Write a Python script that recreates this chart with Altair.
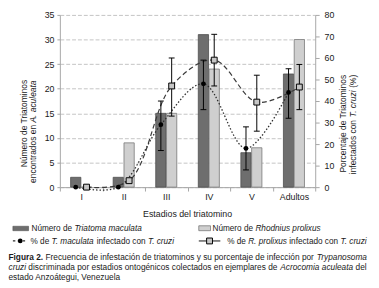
import altair as alt
import pandas as pd

FONT = "Liberation Sans"
INK = "#1a1a1a"

# ---------------- data ----------------
cats = ["I", "II", "III", "IV", "V", "Adultos"]
series = ["T. maculata", "R. prolixus"]
maculata_n = [2, 2, 15, 31, 7, 23]
rhodnius_n = [0, 9, 15, 24, 8, 30]
maculata_pct = [0, 0, 29, 48, 18, 44]
maculata_lo = [None, None, 17, 36, 8, 32]
maculata_hi = [None, None, 40, 59, 28, 55]
rhodnius_pct = [0, 3, 47, 59, 39.5, 46.5]
rhodnius_lo = [None, None, 33, 47, 26, 36]
rhodnius_hi = [None, None, 60, 71, 52, 57]
left_ticks = [0, 5, 10, 15, 20, 25, 30, 35]
right_ticks = [0, 10, 20, 30, 40, 50, 60, 70, 80]

bars_df = pd.DataFrame(
    [dict(cat=c, series=series[0], n=v) for c, v in zip(cats, maculata_n)]
    + [dict(cat=c, series=series[1], n=v) for c, v in zip(cats, rhodnius_n)]
)
m_df = pd.DataFrame(dict(cat=cats, series=series[0], idx=range(len(cats)),
                         pct=maculata_pct, lo=maculata_lo, hi=maculata_hi))
r_df = pd.DataFrame(dict(cat=cats, series=series[1], idx=range(len(cats)),
                         pct=rhodnius_pct, lo=rhodnius_lo, hi=rhodnius_hi))
m_err = m_df.dropna()
r_err = r_df.dropna()

# ---------------- text metrics (Arial / Liberation Sans) ----------------
REG = {' ': 278, '%': 889, '(': 333, ')': 333, ',': 278, '-': 333, '.': 278,
       'A': 667, 'B': 667, 'C': 722, 'D': 722, 'E': 667, 'F': 611, 'G': 778, 'H': 722,
       'I': 278, 'J': 500, 'K': 667, 'L': 556, 'M': 833, 'N': 722, 'O': 778, 'P': 667,
       'Q': 778, 'R': 722, 'S': 667, 'T': 611, 'U': 722, 'V': 667, 'W': 944, 'X': 667,
       'Y': 667, 'Z': 611,
       'a': 556, 'b': 556, 'c': 500, 'd': 556, 'e': 556, 'f': 278, 'g': 556, 'h': 556,
       'i': 222, 'j': 222, 'k': 500, 'l': 222, 'm': 833, 'n': 556, 'o': 556, 'p': 556,
       'q': 556, 'r': 333, 's': 500, 't': 278, 'u': 556, 'v': 500, 'w': 722, 'x': 500,
       'y': 500, 'z': 500, 'á': 556, 'é': 556, 'í': 278, 'ó': 556, 'ú': 556, 'ñ': 556}
BOLD = {'F': 611, 'i': 278, 'g': 611, 'u': 611, 'r': 389, 'a': 556, ' ': 278,
        '2': 556, '.': 278}


def w_em(text, bold=False):
    t = BOLD if bold else REG
    return sum(t.get(ch, 556) for ch in text) / 1000.0


def run(parts, x0, y, fs):
    rows = []
    x = x0
    for text, style in parts:
        b = style == "bold"
        lead = len(text) - len(text.lstrip(" "))
        s = text.strip(" ")
        if s:
            rows.append(dict(x=x + w_em(" " * lead, b) * fs, y=y, text=s, style=style, fs=fs))
        x += w_em(text, b) * fs
    return rows


def run_rot(parts, x, y_top, fs):
    """Text reading bottom-to-top whose end sits at y_top; each segment centred."""
    total = sum(w_em(t) for t, _ in parts) * fs
    bottom = y_top + total
    rows = []
    pos = 0.0
    for text, style in parts:
        lead = w_em(" " * (len(text) - len(text.lstrip(" ")))) * fs
        s = text.strip(" ")
        ws = w_em(s) * fs
        if s:
            c = pos + lead + ws / 2
            rows.append(dict(x=x, y=bottom - c, text=s, style=style, fs=fs))
        pos += w_em(text) * fs
    return rows


LFS = 8.4
CFS = 8.5
TFS = 8.6
SHIFT = 30
hrows = []
hrows += run([("Número de ", "reg"), ("Triatoma maculata", "it")], -29, 218, LFS)
hrows += run([("Número de ", "reg"), ("Rhodnius prolixus", "it")], 156, 218, LFS)
hrows += run([("% de ", "reg"), ("T. maculata", "it"), (" infectado con ", "reg"),
              ("T. cruzi", "it")], -30, 231, LFS)
hrows += run([("% de ", "reg"), ("R. prolixus", "it"), (" infectado con ", "reg"),
              ("T. cruzi", "it")], 171, 231, LFS)
hrows += run([("Figura 2.", "bold"),
              (" Frecuencia de infestación de triatominos y su porcentaje de infección por ", "reg"),
              ("Trypanosoma", "it")], -52.5, 247, CFS)
hrows += run([("cruzi", "it"),
              (" discriminada por estadios ontogénicos colectados en ejemplares de ", "reg"),
              ("Acrocomia aculeata", "it"), (" del", "reg")], -52.5, 258, CFS)
hrows += run([("estado Anzoátegui, Venezuela", "reg")], -52.5, 268, CFS)
hdf = pd.DataFrame(hrows)

rrows = []
rrows += run_rot([("Número de Triatominos", "reg")], -37, 36 + SHIFT, TFS)
rrows += run_rot([("encontrados en ", "reg"), ("A. aculeata", "it")], -27, 37 + SHIFT, TFS)
rrows += run_rot([("Porcentaje de Triatominos", "reg")], 289, 31 + SHIFT, TFS)
rrows += run_rot([("infectados con ", "reg"), ("T. cruzi", "it"), (" (%)", "reg")], 300,
                 31 + SHIFT, TFS)
rdf = pd.DataFrame(rrows)

# ---------------- encodings ----------------
x_enc = alt.X("cat:N", sort=cats,
              scale=alt.Scale(domain=cats, paddingInner=0, paddingOuter=0),
              axis=alt.Axis(title=None, labelAngle=0, tickBand="extent", tickExtra=True,
                            domainColor="#a6a6a6", tickColor="#a6a6a6", tickSize=4,
                            labelFont=FONT, labelFontSize=9, labelColor=INK,
                            labelPadding=2))
xo_enc = alt.XOffset("series:N", sort=series,
                     scale=alt.Scale(domain=series, paddingInner=0.05, paddingOuter=0.995))

pct_scale = alt.Scale(domain=[0, 80], nice=False)
pct_axis = alt.Axis(orient="right", values=right_ticks, title=None, grid=False,
                    domainColor="#a6a6a6", tickColor="#a6a6a6", tickSize=4,
                    labelFont=FONT, labelFontSize=9, labelColor=INK, labelPadding=5)

bars = alt.Chart(bars_df).mark_bar(strokeWidth=0.8).encode(
    x=x_enc, xOffset=xo_enc,
    y=alt.Y("n:Q", scale=alt.Scale(domain=[0, 35], nice=False),
            axis=alt.Axis(values=left_ticks, title=None, grid=True, gridColor="#c4c4c4",
                          gridDash=[4, 2], domainColor="#a6a6a6", tickColor="#a6a6a6",
                          tickSize=3, labelFont=FONT, labelFontSize=9, labelColor=INK,
                          labelPadding=3)),
    fill=alt.Fill("series:N", scale=alt.Scale(domain=series, range=["#6e6e6e", "#cfcfcf"]),
                  legend=None),
    stroke=alt.Stroke("series:N", scale=alt.Scale(domain=series, range=["#4e4e4e", "#777777"]),
                      legend=None),
)


def ypct(field):
    return alt.Y(field, scale=pct_scale, axis=pct_axis)


line_m = alt.Chart(m_df).mark_line(interpolate="catmull-rom", strokeDash=[1.5, 2],
                                   color="#2e2e2e", strokeWidth=1.3).encode(
    x=x_enc, xOffset=xo_enc, y=ypct("pct:Q"), order="idx:Q")
line_r = alt.Chart(r_df).mark_line(interpolate="catmull-rom", strokeDash=[5, 3],
                                   color="#3a3a3a", strokeWidth=1.2).encode(
    x=x_enc, xOffset=xo_enc, y=ypct("pct:Q"), order="idx:Q")

err_layers = []
for d in (m_err, r_err):
    err_layers.append(alt.Chart(d).mark_rule(color="black", strokeWidth=1).encode(
        x=x_enc, xOffset=xo_enc, y=ypct("lo:Q"), y2="hi:Q"))
    for f in ("lo:Q", "hi:Q"):
        err_layers.append(alt.Chart(d).mark_tick(color="black", size=6, thickness=1,
                                                 orient="horizontal", opacity=1).encode(
            x=x_enc, xOffset=xo_enc, y=ypct(f)))

pts_m = alt.Chart(m_df).mark_circle(color="black", size=24, opacity=1).encode(
    x=x_enc, xOffset=xo_enc, y=ypct("pct:Q"))
pts_r = alt.Chart(r_df).mark_square(fill="#c6c6c6", stroke="black", strokeWidth=1,
                                    size=36, opacity=1).encode(
    x=x_enc, xOffset=xo_enc, y=ypct("pct:Q"))

pct_layer = alt.layer(line_m, line_r, *err_layers, pts_m, pts_r)

# ---------------- texts, legend ----------------
one = pd.DataFrame({"a": [0]})
text_layers = []
for style, fst, fw in (("reg", "normal", "normal"), ("it", "italic", "normal"),
                       ("bold", "normal", "bold")):
    sub = hdf[hdf["style"] == style]
    if len(sub):
        text_layers.append(alt.Chart(sub).mark_text(
            align="left", baseline="middle", font=FONT, fontStyle=fst, fontWeight=fw,
            color=INK).encode(
            x=alt.X("x:Q", scale=None, axis=None), y=alt.Y("y:Q", scale=None, axis=None),
            text="text:N", size=alt.Size("fs:Q", scale=None, legend=None)))
    sub = rdf[rdf["style"] == style]
    if len(sub):
        text_layers.append(alt.Chart(sub).mark_text(
            align="center", baseline="middle", angle=270, font=FONT, fontStyle=fst,
            fontWeight=fw, color=INK).encode(
            x=alt.X("x:Q", scale=None, axis=None), y=alt.Y("y:Q", scale=None, axis=None),
            text="text:N", size=alt.Size("fs:Q", scale=None, legend=None)))

xtitle = alt.Chart(one).mark_text(text="Estadios del triatomino", font=FONT, fontSize=9,
                                  color=INK, align="center", baseline="middle").encode(
    x=alt.value(130.5), y=alt.value(204))

sw_m = alt.Chart(one).mark_rect(fill="#6e6e6e", stroke="#4e4e4e", strokeWidth=0.6).encode(
    x=alt.value(-48), x2=alt.value(-32), y=alt.value(216), y2=alt.value(220.5))
sw_r = alt.Chart(one).mark_rect(fill="#cfcfcf", stroke="#777777", strokeWidth=0.8).encode(
    x=alt.value(142), x2=alt.value(154), y=alt.value(215.5), y2=alt.value(220.5))
lg_lm = alt.Chart(one).mark_rule(color="#2e2e2e", strokeDash=[2.5, 2.5], strokeWidth=1.2).encode(
    x=alt.value(-48), x2=alt.value(-33), y=alt.value(231))
lg_pm = alt.Chart(one).mark_circle(color="black", size=24, opacity=1).encode(
    x=alt.value(-40.5), y=alt.value(231))
lg_lr = alt.Chart(one).mark_rule(color="#3a3a3a", strokeWidth=1.2).encode(
    x=alt.value(142), x2=alt.value(164), y=alt.value(231))
lg_pr = alt.Chart(one).mark_square(fill="#c6c6c6", stroke="black", strokeWidth=1, size=36,
                                   opacity=1).encode(x=alt.value(153), y=alt.value(231))

deco = alt.layer(*text_layers, xtitle, sw_m, sw_r, lg_lm, lg_pm, lg_lr, lg_pr)

chart = alt.layer(bars, pct_layer, deco).resolve_scale(y="independent").properties(
    width=261, height=176,
    autosize=alt.AutoSizeParams(type="none"),
    padding={"left": 53, "top": 4, "right": 57, "bottom": 100},
).configure_view(stroke=None)

chart.save("out.html", embed_options={"renderer": "svg", "actions": False})
